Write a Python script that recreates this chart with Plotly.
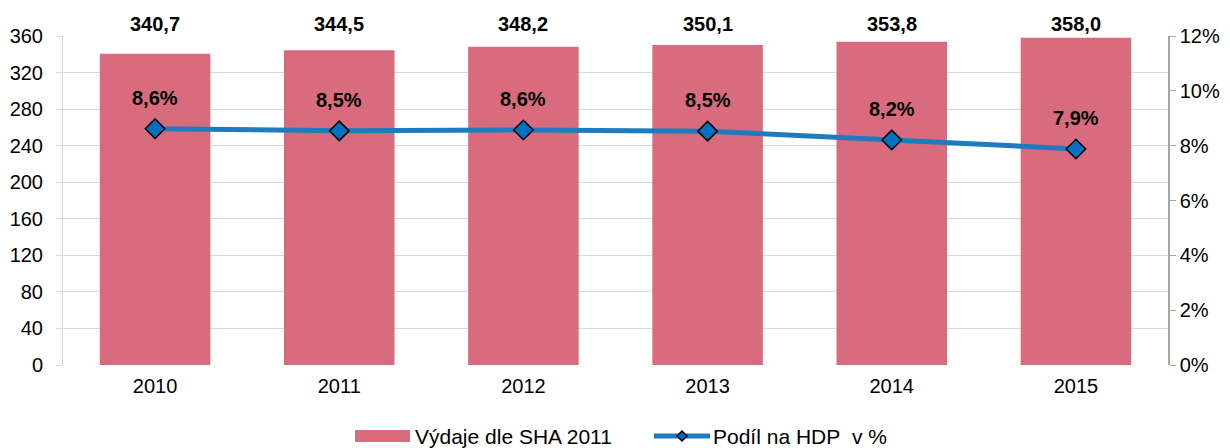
import plotly.graph_objects as go

years = ["2010", "2011", "2012", "2013", "2014", "2015"]
spending = [340.7, 344.5, 348.2, 350.1, 353.8, 358.0]
gdp_share = [8.62, 8.54, 8.57, 8.53, 8.21, 7.88]

BAR_NAME = "Výdaje dle SHA 2011"
LINE_NAME = "Podíl na HDP\u00a0 v %"

BAR_COLOR = "#D96B7F"
LINE_COLOR = "#1F7BBF"
MARKER_COLOR = "#0070C0"
FONT = "Liberation Sans, Arial, sans-serif"
FS = 20

# page body has an 8px margin, so the figure is a bit smaller than the window
W, H = 1222, 440
M = {"l": 55, "r": 62, "t": 28, "b": 83}
PW = W - M["l"] - M["r"]
PH = H - M["t"] - M["b"]


def fmt(v):
    return f"{v:.1f}".replace(".", ",")


def px(x):
    # figure pixel -> paper x
    return (x - M["l"]) / PW


def py(y):
    # figure pixel -> paper y
    return (H - M["b"] - y) / PH


fig = go.Figure()

fig.add_bar(
    x=years,
    y=spending,
    name=BAR_NAME,
    marker={"color": BAR_COLOR, "line": {"width": 0}},
    width=0.6,
    hoverinfo="skip",
)

fig.add_scatter(
    x=years,
    y=gdp_share,
    yaxis="y2",
    name=LINE_NAME,
    mode="lines+markers",
    line={"color": LINE_COLOR, "width": 5},
    marker={
        "symbol": "diamond",
        "size": 15,
        "color": MARKER_COLOR,
        "line": {"color": "#000", "width": 1.5},
    },
)

# data labels (category axis with numeric-looking names -> use category index)
# bar values sit in a row just above the plot area, like in the Excel original
for i, v in enumerate(spending):
    fig.add_annotation(
        x=i, y=py(16), yref="paper", text=f"<b>{fmt(v)}</b>", showarrow=False,
        yanchor="middle", font={"size": FS, "color": "#000"},
    )
for i, v in enumerate(gdp_share):
    fig.add_annotation(
        x=i, y=v, yref="y2", text=f"<b>{fmt(v)}%</b>", showarrow=False,
        yanchor="middle", yshift=31, font={"size": FS, "color": "#000"},
    )

# hand-drawn legend (Excel style wide swatches)
leg_y = 428
fig.add_shape(
    type="rect", xref="paper", yref="paper",
    x0=px(347), x1=px(402), y0=py(422), y1=py(434),
    fillcolor=BAR_COLOR, line_width=0,
)
fig.add_annotation(
    xref="paper", yref="paper", x=px(405), y=py(leg_y), text=BAR_NAME,
    showarrow=False, xanchor="left", yanchor="middle", font={"size": 21},
)
fig.add_shape(
    type="line", xref="paper", yref="paper",
    x0=px(646), x1=px(702), y0=py(leg_y), y1=py(leg_y),
    line={"color": LINE_COLOR, "width": 5},
)
cx, d = 674, 5
fig.add_shape(
    type="path", xref="paper", yref="paper",
    path=(
        f"M {px(cx - d)},{py(leg_y)} L {px(cx)},{py(leg_y - d)} "
        f"L {px(cx + d)},{py(leg_y)} L {px(cx)},{py(leg_y + d)} Z"
    ),
    fillcolor=MARKER_COLOR, line={"color": "#000", "width": 1.5},
)
fig.add_annotation(
    xref="paper", yref="paper", x=px(703), y=py(leg_y), text=LINE_NAME,
    showarrow=False, xanchor="left", yanchor="middle", font={"size": 21},
)

fig.update_layout(
    width=W,
    height=H,
    margin=M,
    plot_bgcolor="#fff",
    paper_bgcolor="#fff",
    font={"family": FONT, "size": FS, "color": "#000"},
    bargap=0.4,
    showlegend=False,
    xaxis={
        "type": "category",
        "automargin": False,
        "showgrid": False,
        "showline": False,
        "ticks": "",
        "ticklabelstandoff": 7,
        "tickfont": {"size": FS},
    },
    yaxis={
        "range": [0, 360],
        "dtick": 40,
        "automargin": False,
        "showgrid": True,
        "gridcolor": "#D9D9D9",
        "gridwidth": 1,
        "showline": True,
        "linecolor": "#D9D9D9",
        "ticks": "outside",
        "ticklen": 6,
        "tickcolor": "#D9D9D9",
        "ticklabelstandoff": 9,
        "zeroline": False,
        "tickfont": {"size": FS},
    },
    yaxis2={
        "range": [0, 12],
        "dtick": 2,
        "ticksuffix": "%",
        "overlaying": "y",
        "side": "right",
        "automargin": False,
        "showgrid": False,
        "showline": True,
        "linecolor": "#A6A6A6",
        "linewidth": 1.5,
        "ticks": "outside",
        "ticklen": 6,
        "tickcolor": "#A6A6A6",
        "ticklabelstandoff": 0,
        "zeroline": False,
        "tickfont": {"size": FS},
    },
)

fig.write_html("out.html")
